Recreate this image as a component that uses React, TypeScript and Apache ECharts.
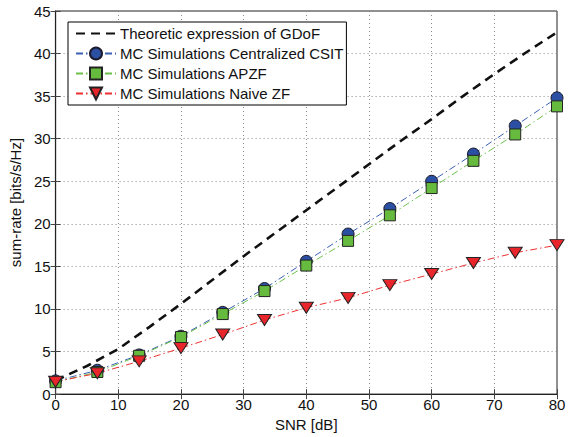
import React, { useEffect, useRef } from "react";
import * as echarts from "echarts";

const snrTheory = [0, 5, 10, 15, 20, 25, 30, 35, 40, 45, 50, 55, 60, 65, 70, 75, 80];
const gdofTheory = [1.6, 3.3, 5.3, 7.9, 10.6, 13.4, 16.2, 18.9, 21.6, 24.3, 27.0, 29.7, 32.3, 35.0, 37.6, 40.1, 42.5];

const snrSim = [0, 6.667, 13.333, 20, 26.667, 33.333, 40, 46.667, 53.333, 60, 66.667, 73.333, 80];
const centralized = [1.55, 2.8, 4.6, 6.8, 9.6, 12.4, 15.6, 18.8, 21.8, 25.0, 28.2, 31.5, 34.8];
const apzf = [1.4, 2.6, 4.5, 6.7, 9.4, 12.1, 15.1, 18.0, 21.0, 24.2, 27.4, 30.5, 33.8];
const naiveZf = [1.45, 2.45, 3.85, 5.4, 7.0, 8.7, 10.15, 11.3, 12.8, 14.1, 15.4, 16.6, 17.5];

const seriesNames = [
  "Theoretic expression of GDoF",
  "MC Simulations Centralized CSIT",
  "MC Simulations APZF",
  "MC Simulations Naive ZF",
];

const FONT = "'Liberation Sans', Arial, Helvetica, sans-serif";

function pairs(xs: number[], ys: number[]) {
  return xs.map((x, i) => [x, ys[i]]);
}

export default function App() {
  const ref = useRef<HTMLDivElement>(null);
  useEffect(() => {
    if (!ref.current) return;
    const chart = echarts.init(ref.current, undefined, { renderer: "svg" });
    const gridLine = { show: true, lineStyle: { color: "#8a8a8a", type: [1, 3], width: 1 } };
    const dashDot = [7, 3, 1.5, 3];
    chart.setOption({
      animation: false,
      backgroundColor: "#ffffff",
      textStyle: { fontFamily: FONT },
      grid: {
        left: 52,
        right: 14,
        top: 11,
        bottom: 42,
        show: true,
        borderColor: "#222",
        borderWidth: 1,
        backgroundColor: "transparent",
      },
      legend: {
        orient: "vertical",
        left: 68,
        top: 22,
        padding: [4, 3, 4, 7],
        itemWidth: 40,
        itemHeight: 15,
        itemGap: 5,
        backgroundColor: "#fff",
        borderColor: "#000",
        borderWidth: 1,
        selectedMode: false,
        data: [
          { name: seriesNames[0], itemStyle: { opacity: 0 } },
          seriesNames[1],
          seriesNames[2],
          seriesNames[3],
        ],
        textStyle: { fontSize: 15, color: "#111", fontFamily: FONT, padding: [0, 0, 0, -1] },
      },
      xAxis: [
        {
          type: "value",
          min: 0,
          max: 80,
          interval: 10,
          name: "SNR [dB]",
          nameLocation: "middle",
          nameGap: 22,
          nameTextStyle: { fontSize: 15, color: "#111", fontFamily: FONT },
          axisLine: { show: true, onZero: false, lineStyle: { color: "#222", width: 1.2 } },
          axisTick: { show: true, inside: true, length: 5, lineStyle: { color: "#444" } },
          axisLabel: { fontSize: 15, color: "#111", margin: 3, fontFamily: FONT },
          splitLine: gridLine,
        },
        {
          type: "value",
          position: "top",
          min: 0,
          max: 80,
          interval: 10,
          axisLine: { show: true, lineStyle: { color: "#222" } },
          axisTick: { show: true, inside: true, length: 5, lineStyle: { color: "#444" } },
          axisLabel: { show: false },
          splitLine: { show: false },
        },
      ],
      yAxis: [
        {
          type: "value",
          min: 0,
          max: 45,
          interval: 5,
          name: "sum-rate [bits/s/Hz]",
          nameLocation: "middle",
          nameGap: 28,
          nameTextStyle: { fontSize: 15, color: "#111", fontFamily: FONT },
          axisLine: { show: true, onZero: false, lineStyle: { color: "#222", width: 1.2 } },
          axisTick: { show: true, inside: true, length: 5, lineStyle: { color: "#444" } },
          axisLabel: { fontSize: 15, color: "#111", margin: 5, fontFamily: FONT },
          splitLine: gridLine,
        },
        {
          type: "value",
          position: "right",
          min: 0,
          max: 45,
          interval: 5,
          axisLine: { show: true, lineStyle: { color: "#222" } },
          axisTick: { show: true, inside: true, length: 5, lineStyle: { color: "#444" } },
          axisLabel: { show: false },
          splitLine: { show: false },
        },
      ],
      series: [
        {
          name: seriesNames[0],
          type: "line",
          data: pairs(snrTheory, gdofTheory),
          symbol: "none",
          lineStyle: { color: "#111", width: 2.6, type: [9, 6] },
          itemStyle: { color: "rgba(0,0,0,0)", borderWidth: 0 },
        },
        {
          name: seriesNames[1],
          type: "line",
          data: pairs(snrSim, centralized),
          symbol: "circle",
          symbolSize: 12,
          lineStyle: { color: "#3b5fb5", width: 1, type: dashDot },
          itemStyle: { color: "#2b50a3", borderColor: "#1a1a2a", borderWidth: 1 },
        },
        {
          name: seriesNames[2],
          type: "line",
          data: pairs(snrSim, apzf),
          symbol: "rect",
          symbolSize: 11,
          lineStyle: { color: "#6cc04a", width: 1, type: dashDot },
          itemStyle: { color: "#66bb3f", borderColor: "#222", borderWidth: 1 },
        },
        {
          name: seriesNames[3],
          type: "line",
          data: pairs(snrSim, naiveZf),
          symbol: "triangle",
          symbolRotate: 180,
          symbolSize: [14, 11],
          lineStyle: { color: "#ee3030", width: 1, type: dashDot },
          itemStyle: { color: "#e8252b", borderColor: "#222", borderWidth: 1 },
        },
      ],
    });
    return () => chart.dispose();
  }, []);
  return (
    <div
      ref={ref}
      style={{ position: "fixed", left: 0, top: 0, width: 571, height: 437, background: "#fff" }}
    />
  );
}
